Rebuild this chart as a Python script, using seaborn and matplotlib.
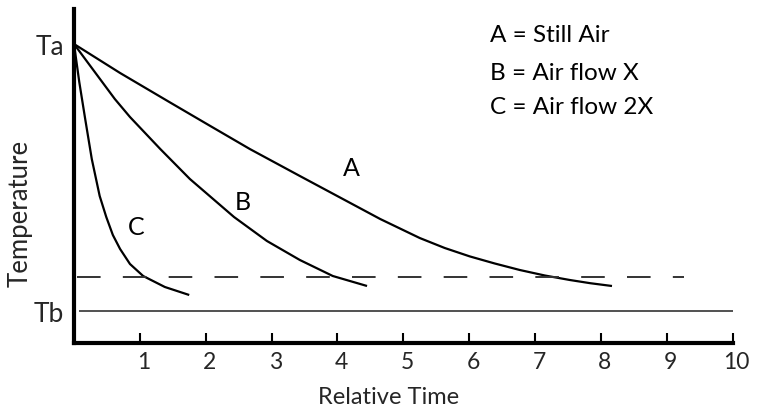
import numpy as np
import pandas as pd
import seaborn as sns
import matplotlib
matplotlib.use("Agg")
import matplotlib.pyplot as plt
import matplotlib.transforms as mtransforms

# ---- data (x: relative time, y: temperature units) ----
Ta = 299
Tb = 32
T_threshold = 66

a_x = [0, 0.70, 1.46, 2.07, 2.67, 3.43, 4.04, 4.65, 5.25, 5.63, 6.01, 6.39, 6.77, 7.15, 7.53, 7.84, 8.17]
a_y = [299, 270, 240.5, 217, 194, 167, 145.5, 124, 105, 95, 86.6, 79.5, 73, 67.5, 63, 59.8, 57]

b_x = [0, 0.62, 0.85, 1.31, 1.76, 2.43, 2.93, 3.43, 3.93, 4.45]
b_y = [299, 244, 226, 194, 164, 126, 102, 83, 67, 57]

c_x = [0, 0.08, 0.17, 0.27, 0.39, 0.49, 0.59, 0.70, 0.85, 1.05, 1.38, 1.75]
c_y = [299, 261, 224, 184, 147, 126, 108, 94, 79, 67, 56, 48]

curve_labels = ["A", "B", "C"]
label_x = [4.21, 2.57, 0.94]
label_y = [176, 141, 116]

legend_lines = ["A = Still Air", "B = Air flow X", "C = Air flow 2X"]
legend_y = [308, 271, 236]
x_ticks = [1, 2, 3, 4, 5, 6, 7, 8, 9, 10]

sns.set_theme(style="white")
FONT = ["Lato", "DejaVu Sans"]
plt.rcParams["font.family"] = FONT
plt.rcParams["lines.scale_dashes"] = False

fig = plt.figure(figsize=(7.73, 4.14), dpi=100)
W, H = 773, 414
left_px, right_px, top_px, bottom_px = 74, 732.5, 10, 344
ax = fig.add_axes([left_px / W, (H - bottom_px) / H, (right_px - left_px) / W, (bottom_px - top_px) / H])

df = pd.concat([
    pd.DataFrame({"t": a_x, "T": a_y, "curve": "A"}),
    pd.DataFrame({"t": b_x, "T": b_y, "curve": "B"}),
    pd.DataFrame({"t": c_x, "T": c_y, "curve": "C"}),
])
for name in ["A", "B", "C"]:
    sub = df[df.curve == name]
    sns.lineplot(data=sub, x="t", y="T", ax=ax, color="black", linewidth=1.6,
                 sort=False, estimator=None, legend=False,
                 solid_joinstyle="round", solid_capstyle="butt")

ax.hlines(Tb, 0.08, 10, color="#222222", linewidth=1.1)
ax.hlines(T_threshold, 0.04, 9.27, color="#333333", linewidth=1.4,
          linestyle=(0, (17, 16)))

for lab, lx, ly in zip(curve_labels, label_x, label_y):
    ax.text(lx, ly, lab, ha="center", va="center", fontsize=18, color="black")

for line, ly in zip(legend_lines, legend_y):
    ax.text(6.32, ly, line, ha="left", va="center", fontsize=17.5, color="black")

ax.set_xlim(0, 10)
ax.set_ylim(0, 334)
ax.set_xticks(x_ticks)
ax.set_xticklabels([str(v) for v in x_ticks], fontsize=16.5)
ax.set_yticks([Tb, Ta])
ax.set_yticklabels(["Tb", "Ta"], fontsize=19)
ax.tick_params(axis="x", direction="in", length=7.5, width=1.5, color="black", pad=6, bottom=True)
ax.tick_params(axis="y", length=0, pad=7)

off = mtransforms.ScaledTranslation(4 / 100, 0, fig.dpi_scale_trans)
for lbl in ax.get_xticklabels():
    lbl.set_transform(lbl.get_transform() + off)

ax.set_xlabel("Relative Time", fontsize=17)
ax.set_ylabel("Temperature", fontsize=18.5)
ax.xaxis.set_label_coords(0.477, -0.13)
ax.yaxis.set_label_coords(-0.063, 0.392)

for s in ["top", "right"]:
    ax.spines[s].set_visible(False)
for s in ["left", "bottom"]:
    ax.spines[s].set_linewidth(3)
    ax.spines[s].set_color("black")
ax.grid(False)

fig.savefig("out.png", dpi=100)
